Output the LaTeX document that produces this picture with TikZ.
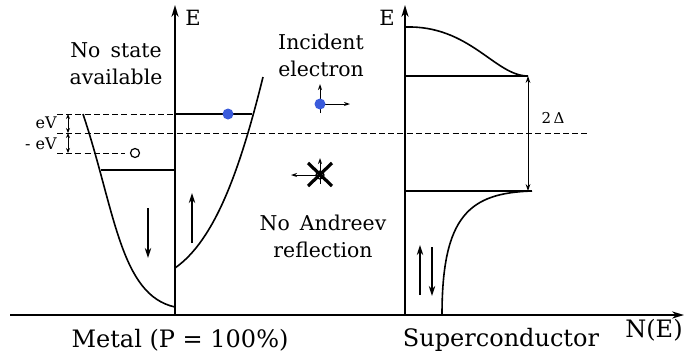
\documentclass[tikz,border=0pt]{standalone}
\usepackage{fontspec}
\setmainfont{DejaVu Serif}
\usetikzlibrary{arrows.meta,calc}
\definecolor{elecblue}{HTML}{3A5BDB}

\begin{document}
\begin{tikzpicture}[
  x=0.5pt,y=-0.5pt,
  axis/.style={line width=0.9pt,-{Stealth[length=6pt,width=3.6pt]}},
  dos/.style={line width=0.8pt},
  level/.style={line width=0.7pt},
  fermi/.style={line width=0.5pt,dash pattern=on 3pt off 1.6pt},
  spin/.style={line width=0.7pt,-{Stealth[length=5pt,width=3.2pt]}},
  small/.style={line width=0.5pt,-{Stealth[length=3pt,width=2pt]}},
  gap/.style={line width=0.5pt,{Stealth[length=3.5pt,width=2.4pt]}-{Stealth[length=3.5pt,width=2.4pt]}},
  ev/.style={line width=0.5pt,{Stealth[length=2.5pt,width=2pt]}-{Stealth[length=2.5pt,width=2pt]}},
  txt/.style={align=center,inner sep=0pt,font=\fontsize{10.2}{13.5}\selectfont},
  big/.style={font=\fontsize{12}{14}\selectfont},
  every node/.style={inner sep=0pt}
]
\useasboundingbox (0,0) rectangle (685,360);

% axes
\coordinate (xl) at (10,315);
\coordinate (xr) at (684,315);
\coordinate (m0) at (175,315);
\coordinate (mt) at (175,5);
\coordinate (s0) at (405,315);
\coordinate (st) at (405,5);
\draw[axis] (xl) -- (xr);
\draw[axis] (m0) -- (mt);
\draw[axis] (s0) -- (st);
\node[font=\fontsize{10.5}{12}\selectfont] (emet) at (193,18) {E};
\node[font=\fontsize{10.5}{12}\selectfont] (esc) at (387,18) {E};

% metal bands
\draw[dos] (83,114) .. controls (115,210) and (120,295) .. (175,307);
\draw[dos] (175,268) .. controls (215,240) and (240,170) .. (263,77);
\draw[level] (101,170) -- (175,170);
\draw[level] (175,114) -- (252,114);
\draw[fermi] (57,114) -- (175,114);
\draw[fermi] (57,133) -- (588,133);
\draw[fermi] (57,153) -- (125,153);
\draw[ev] (68,114) -- (68,133);
\draw[ev] (68,133) -- (68,153);
\node[anchor=east,font=\fontsize{8}{10}\selectfont] (ev1) at (57,123) {eV};
\node[anchor=east,font=\fontsize{8}{10}\selectfont] (ev2) at (57,144) {- eV};
\fill[elecblue] (228,114) circle (5.5);
\draw[line width=0.6pt,fill=white] (135,153) circle (4.5);
\draw[spin] (148,208) -- (148,258);
\draw[spin] (192,243) -- (192,193);

% incident electron
\coordinate (inc) at (320,104);
\draw[small] (320,113) -- (320,84);
\draw[small] (inc) -- (350,104);
\fill[elecblue] (inc) circle (5.5);

% no reflection
\coordinate (hole) at (320,175);
\draw[small] (320,184) -- (320,158);
\draw[small] (hole) -- (291,175);
\draw[line width=0.6pt] (hole) circle (4);
\draw[line width=1.6pt] (308,163) -- (332,186);
\draw[line width=1.6pt] (332,163) -- (308,186);

% superconductor
\draw[dos] (405,27) .. controls (470,25) and (495,76) .. (528,76);
\draw[level] (405,76) -- (528,76);
\draw[level] (405,191) -- (532,191);
\draw[dos] (532,191) .. controls (470,193) and (442,215) .. (442,315);
\draw[gap] (528,76) -- (528,191);
\node[font=\fontsize{7.5}{9}\selectfont] (delta) at (553,118) {2\,Δ};
\draw[spin] (420,295) -- (420,245);
\draw[spin] (432,247) -- (432,296);

% labels
\node[txt] (nostate) at (116,64) {No\hspace{0.5em}state\\available};
\node[txt] (incident) at (321,55) {Incident\\electron};
\node[txt] (noandreev) at (323,236) {No\hspace{0.5em}Andreev\\reflection};
\node[big] (metal) at (180,340) {Metal (P = 100\%)};
\node[big] (sc) at (501,340) {Superconductor};
\node[big] (ne) at (654,330) {N(E)};
\end{tikzpicture}
\end{document}
